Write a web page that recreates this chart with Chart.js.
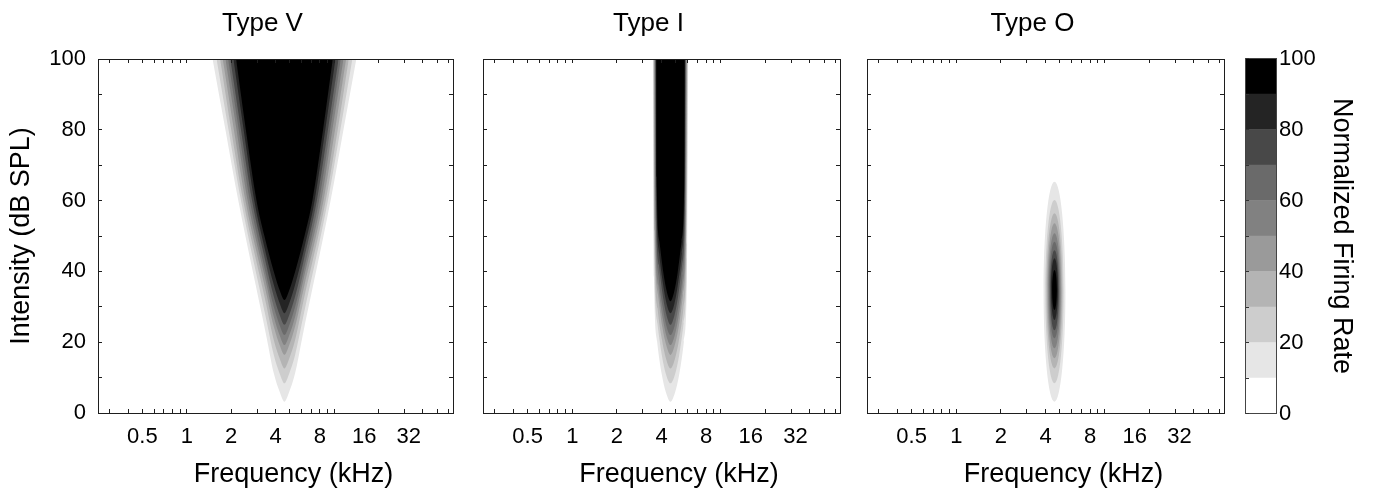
<!DOCTYPE html>
<html>
<head>
<meta charset="utf-8">
<title>Tuning curve types</title>
<script src="https://cdn.jsdelivr.net/npm/chart.js@4.4.1/dist/chart.umd.min.js"></script>
<style>
  html, body { margin: 0; padding: 0; background: #fff; }
  #figure { position: relative; width: 1373px; height: 493px; overflow: hidden; background: #fff; }
  #figure canvas { position: absolute; top: 0; }
</style>
</head>
<body>
<div id="figure">
  <canvas id="colorbar" width="138" height="493" style="left:1235px"></canvas>
  <canvas id="typeV" width="587" height="493" style="left:0px"></canvas>
  <canvas id="typeI" width="438" height="493" style="left:460px"></canvas>
  <canvas id="typeO" width="437" height="493" style="left:845px"></canvas>
</div>
<script>
// frequency axis (kHz, log) and intensity axis (dB SPL)
const freqRange = [0.25, 64];
const freqMarks = [0.3, 0.4, 0.5, 0.6, 0.7, 0.8, 0.9, 1, 2, 3, 4, 5, 6, 7, 8, 9, 10, 20, 30, 40, 50, 60];
const freqLabels = [0.5, 1, 2, 4, 8, 16, 32];
const dbRange = [0, 100];
const dbLabels = [0, 20, 40, 60, 80, 100];

// normalized firing rate: contour levels, colour bar bands and their greys
const rateLevels = [10, 20, 30, 40, 50, 60, 70, 80, 90];
const rateEdges = [0, 10, 20, 30, 40, 50, 60, 70, 80, 90, 100];
const rateLabels = [0, 20, 40, 60, 80, 100];
const bandColors = ['#ffffff', '#e6e6e6', '#cdcdcd', '#b4b4b4', '#9a9a9a',
                    '#818181', '#6a6a6a', '#484848', '#242424', '#000000'];

const bestFreq = 4.6; // kHz

// Type V, one contour per level: [dB SPL, half width in octaves] from the tip up
const typeVEdges = [
  [[3.2, 0], [5.7, 0.10], [11.2, 0.24], [21.2, 0.40], [60, 1.04], [80, 1.33], [100, 1.62]],
  [[8.4, 0], [10.9, 0.10], [16.4, 0.24], [26.4, 0.41], [60, 0.98], [80, 1.26], [100, 1.53]],
  [[12.6, 0], [15.1, 0.10], [20.6, 0.24], [30.6, 0.41], [60, 0.93], [80, 1.20], [100, 1.45]],
  [[16.4, 0], [18.9, 0.10], [24.4, 0.24], [34.4, 0.42], [60, 0.88], [80, 1.14], [100, 1.39]],
  [[19.2, 0], [21.7, 0.10], [27.2, 0.24], [37.2, 0.42], [60, 0.83], [80, 1.08], [100, 1.33]],
  [[22.0, 0], [24.5, 0.10], [30.0, 0.24], [40.0, 0.43], [60, 0.78], [80, 1.03], [100, 1.27]],
  [[24.9, 0], [27.4, 0.10], [32.9, 0.24], [42.9, 0.43], [60, 0.73], [80, 0.98], [100, 1.22]],
  [[28.2, 0], [30.7, 0.10], [36.2, 0.24], [46.2, 0.44], [60, 0.68], [80, 0.92], [100, 1.15]],
  [[31.9, 0], [34.4, 0.10], [39.9, 0.24], [49.9, 0.45], [60, 0.63], [80, 0.87], [100, 1.09]]
];

// Type I, same layout
const typeIEdges = [
  [[3.2, 0], [5.7, 0.10], [11.2, 0.20], [20.2, 0.30], [38.2, 0.37], [100, 0.40]],
  [[8.4, 0], [10.9, 0.10], [16.4, 0.195], [25.4, 0.295], [43.4, 0.365], [100, 0.39]],
  [[12.6, 0], [15.1, 0.095], [20.6, 0.19], [29.6, 0.29], [47.6, 0.355], [100, 0.38]],
  [[16.4, 0], [18.9, 0.09], [24.4, 0.185], [33.4, 0.28], [51.4, 0.35], [100, 0.37]],
  [[19.2, 0], [21.7, 0.09], [27.2, 0.18], [36.2, 0.275], [54.2, 0.34], [100, 0.36]],
  [[22.0, 0], [24.5, 0.09], [30.0, 0.175], [39.0, 0.27], [57.0, 0.33], [100, 0.35]],
  [[24.9, 0], [27.4, 0.085], [32.9, 0.17], [41.9, 0.26], [59.9, 0.325], [100, 0.34]],
  [[28.2, 0], [30.7, 0.085], [36.2, 0.165], [45.2, 0.255], [63.2, 0.315], [100, 0.33]],
  [[31.6, 0], [34.1, 0.08], [39.6, 0.16], [48.6, 0.25], [66.6, 0.31], [100, 0.32]]
];

// Type O, closed contours: top and bottom (dB SPL), half width (octaves)
const typeOTop = [65.3, 60.2, 56.4, 53.6, 50.8, 48.4, 46.0, 43.7, 40.4];
const typeOBottom = [3.2, 8.4, 12.6, 15.5, 18.3, 21.1, 23.4, 26.3, 29.1];
const typeOHalfWidth = [0.245, 0.205, 0.178, 0.155, 0.135, 0.115, 0.097, 0.077, 0.053];

Chart.defaults.font.family = "'Liberation Sans', Arial, sans-serif";
Chart.defaults.color = '#000';

const frameColor = '#1e1e1e';
const frame = {display: true, color: frameColor, width: 1, z: 1};

function openContour(edge) {
  let pts = [];
  for (let i = edge.length - 1; i > 0; i--) {
    pts.push({x: bestFreq / Math.pow(2, edge[i][1]), y: edge[i][0]});
  }
  pts.push({x: bestFreq, y: edge[0][0]});
  for (let i = 1; i < edge.length; i++) {
    pts.push({x: bestFreq * Math.pow(2, edge[i][1]), y: edge[i][0]});
  }
  return pts;
}

function ovalContour(i) {
  let mid = (typeOTop[i] + typeOBottom[i]) / 2;
  let lo = bestFreq / Math.pow(2, typeOHalfWidth[i]);
  let hi = bestFreq * Math.pow(2, typeOHalfWidth[i]);
  // go round once and a bit more so every corner gets both neighbours
  return [
    {x: lo, y: mid}, {x: bestFreq, y: typeOTop[i]}, {x: hi, y: mid},
    {x: bestFreq, y: typeOBottom[i]}, {x: lo, y: mid}, {x: bestFreq, y: typeOTop[i]},
    {x: hi, y: mid}
  ];
}

function contourSet(points, level, fill, tension) {
  return {
    data: points,
    showLine: true,
    pointRadius: 0,
    borderWidth: 0,
    borderColor: 'rgba(0,0,0,0)',
    backgroundColor: bandColors[rateLevels.indexOf(level) + 1],
    fill: fill,
    tension: tension,
    cubicInterpolationMode: fill === 'end' ? 'monotone' : 'default'
  };
}

function freqAxis(position, withLabels, height, title) {
  return {
    type: 'logarithmic',
    position: position,
    min: freqRange[0],
    max: freqRange[1],
    afterBuildTicks: s => {
      let vals = withLabels ? freqMarks.concat([16, 32]).sort((a, b) => a - b) : freqMarks;
      s.ticks = vals.map(v => ({value: v}));
    },
    afterFit: s => { s.height = height; },
    border: frame,
    grid: {
      z: 1,
      drawOnChartArea: false,
      tickLength: -4,
      tickWidth: 1,
      tickColor: ctx => (ctx.tick && freqMarks.includes(ctx.tick.value)) ? frameColor : 'rgba(0,0,0,0)'
    },
    ticks: {
      display: withLabels,
      autoSkip: false,
      maxRotation: 0,
      minRotation: 0,
      padding: 15,
      font: {size: 22},
      callback: v => freqLabels.includes(v) ? String(v) : ''
    },
    // trailing en spaces pull the panel name a little left of centre, as in the figure
    title: title ? {display: true, text: title + '\u2002\u2002', font: {size: 26}, padding: {top: 8.4, bottom: 0}} : {display: false}
  };
}

function dbAxis(position, withLabels, width, title) {
  return {
    type: 'linear',
    position: position,
    min: dbRange[0],
    max: dbRange[1],
    afterFit: s => { s.width = width; },
    border: frame,
    grid: {z: 1, drawOnChartArea: false, tickLength: -4, tickWidth: 1, tickColor: frameColor},
    ticks: {
      display: withLabels,
      stepSize: 10,
      autoSkip: false,
      padding: 16,
      font: {size: 22},
      callback: v => dbLabels.includes(v) ? String(v) : ''
    },
    title: title ? {display: true, text: title, font: {size: 27}, padding: {top: 5.4, bottom: 0}} : {display: false}
  };
}

function panel(id, name, datasets, yLeft, yRight, showDb) {
  return new Chart(document.getElementById(id), {
    type: 'scatter',
    data: {datasets: datasets},
    options: {
      responsive: false,
      animation: false,
      devicePixelRatio: 1,
      events: [],
      layout: {padding: 0},
      plugins: {
        legend: {display: false},
        tooltip: {enabled: false},
        title: {
          display: true,
          position: 'bottom',
          text: 'Frequency (kHz)',
          font: {size: 27, weight: 'normal'},
          color: '#000',
          padding: {top: 0, bottom: 1.8}
        }
      },
      scales: {
        x: freqAxis('bottom', true, 45.8, null),
        xTop: freqAxis('top', false, 59, name),
        y: dbAxis('left', showDb, yLeft, showDb ? 'Intensity (dB SPL)' : null),
        yRight: dbAxis('right', false, yRight, null)
      }
    }
  });
}

// darkest level first so it is painted last, on top
let vSets = typeVEdges.map((e, i) => contourSet(openContour(e), rateLevels[i], 'end', 0)).reverse();
let iSets = typeIEdges.map((e, i) => contourSet(openContour(e), rateLevels[i], 'end', 0)).reverse();
let oSets = rateLevels.map((lvl, i) => contourSet(ovalContour(i), lvl, 'shape', 0.55)).reverse();

panel('typeV', 'Type V', vSets, 98, 134, true);
panel('typeI', 'Type I', iSets, 23, 58, false);
panel('typeO', 'Type O', oSets, 22, 58, false);

// colour bar: one floating bar per band
const barFrame = {display: true, color: '#444', width: 1, z: 1};
new Chart(document.getElementById('colorbar'), {
  type: 'bar',
  data: {
    labels: [''],
    datasets: bandColors.map((c, i) => ({
      data: [[rateEdges[i], rateEdges[i + 1]]],
      backgroundColor: c,
      borderWidth: 0,
      barPercentage: 1,
      categoryPercentage: 1,
      grouped: false
    }))
  },
  options: {
    responsive: false,
    animation: false,
    devicePixelRatio: 1,
    events: [],
    layout: {padding: {top: 58.5, bottom: 79.5, left: 0, right: 0}},
    plugins: {legend: {display: false}, tooltip: {enabled: false}},
    scales: {
      x: {
        type: 'category', position: 'bottom',
        afterFit: s => { s.height = 0; },
        ticks: {display: false}, grid: {display: false, drawTicks: false}, border: barFrame
      },
      xTop: {
        type: 'category', position: 'top', axis: 'x',
        afterFit: s => { s.height = 0; },
        ticks: {display: false}, grid: {display: false, drawTicks: false}, border: barFrame
      },
      yl: {
        type: 'linear', position: 'left', min: 0, max: 100,
        afterFit: s => { s.width = 10; },
        ticks: {display: false, stepSize: 10},
        grid: {z: 1, drawOnChartArea: false, tickLength: -4, tickColor: '#333'},
        border: barFrame
      },
      y: {
        type: 'linear', position: 'right', min: 0, max: 100,
        afterFit: s => { s.width = 97; },
        ticks: {stepSize: 20, padding: 3, font: {size: 22}, callback: v => rateLabels.includes(v) ? String(v) : ''},
        grid: {display: false, drawTicks: false},
        border: barFrame,
        title: {display: true, text: 'Normalized Firing Rate', font: {size: 27}, padding: {top: 15.8, bottom: 0}}
      }
    }
  }
});
</script>
</body>
</html>
